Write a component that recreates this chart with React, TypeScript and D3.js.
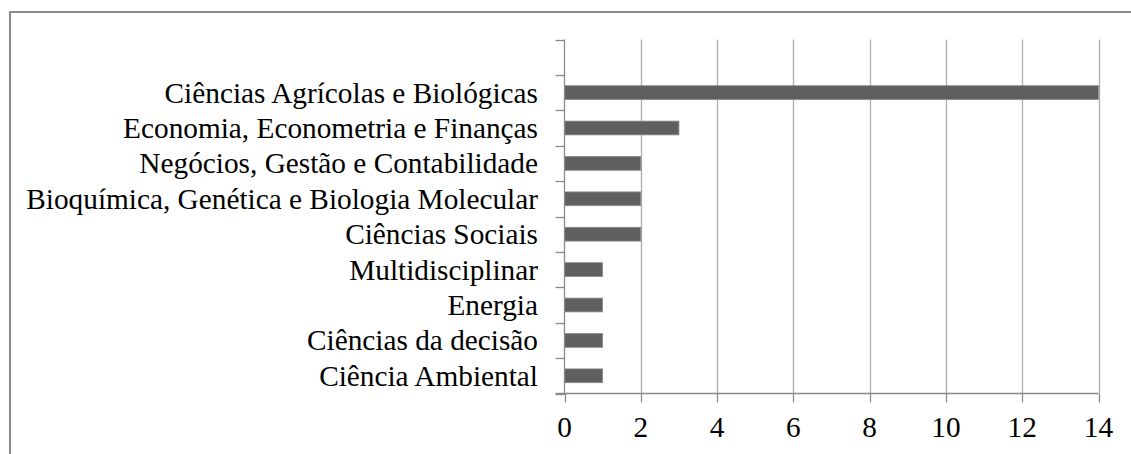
import React, { useEffect, useRef } from 'react';
import * as d3 from 'd3';

// categories top to bottom (first slot of the axis is left empty)
const categories = [
  'Ciências Agrícolas e Biológicas',
  'Economia, Econometria e Finanças',
  'Negócios, Gestão e Contabilidade',
  'Bioquímica, Genética e Biologia Molecular',
  'Ciências Sociais',
  'Multidisciplinar',
  'Energia',
  'Ciências da decisão',
  'Ciência Ambiental',
];
const counts = [14, 3, 2, 2, 2, 1, 1, 1, 1];
const xTicks = [0, 2, 4, 6, 8, 10, 12, 14];

const W = 1131;
const H = 454;
const FONT = 'Liberation Serif, Times New Roman, serif';

export default function App() {
  const ref = useRef<SVGSVGElement>(null);

  useEffect(() => {
    const svg = d3.select(ref.current);
    svg.selectAll('*').remove();

    const left = 564.5;
    const right = 1098.5;
    const top = 39.5;
    const bottom = 393.5;

    const x = d3.scaleLinear().domain([0, 14]).range([left, right]);
    const y = d3.scaleBand<string>()
      .domain(['', ...categories])
      .range([top, bottom])
      .padding(0);
    const bw = y.bandwidth();

    // outer frame (left + top only, the rest is cropped)
    svg.append('path')
      .attr('d', `M10,${H} V12 H${W}`)
      .attr('fill', 'none')
      .attr('stroke', '#8a8a8a')
      .attr('stroke-width', 2);

    // vertical gridlines
    svg.append('g')
      .selectAll('line')
      .data(xTicks.filter(d => d > 0))
      .enter().append('line')
      .attr('x1', d => Math.round(x(d)) + 0.5)
      .attr('x2', d => Math.round(x(d)) + 0.5)
      .attr('y1', top)
      .attr('y2', bottom)
      .attr('stroke', '#ababab')
      .attr('stroke-width', 1.3);

    // bars
    svg.append('g')
      .selectAll('rect')
      .data(categories)
      .enter().append('rect')
      .attr('x', left)
      .attr('y', d => (y(d) as number) + bw * 0.305)
      .attr('width', (d, i) => x(counts[i]) - left)
      .attr('height', bw * 0.39)
      .attr('fill', '#5f5f5f')
      .attr('stroke', '#8c8c8c')
      .attr('stroke-width', 0.8);

    // left axis line + ticks at band edges
    svg.append('line')
      .attr('x1', left).attr('x2', left)
      .attr('y1', top).attr('y2', bottom)
      .attr('stroke', '#8a8a8a').attr('stroke-width', 1.3);

    const edges = [...y.domain().map(d => y(d) as number), bottom];
    svg.append('g')
      .selectAll('line')
      .data(edges)
      .enter().append('line')
      .attr('x1', left - 9)
      .attr('x2', left)
      .attr('y1', d => Math.round(d) + 0.5)
      .attr('y2', d => Math.round(d) + 0.5)
      .attr('stroke', '#8a8a8a')
      .attr('stroke-width', 1.3);

    // bottom axis
    svg.append('line')
      .attr('x1', left - 9).attr('x2', right)
      .attr('y1', bottom).attr('y2', bottom)
      .attr('stroke', '#8a8a8a').attr('stroke-width', 1.3);

    svg.append('g')
      .selectAll('line')
      .data(xTicks)
      .enter().append('line')
      .attr('x1', d => Math.round(x(d)) + 0.5)
      .attr('x2', d => Math.round(x(d)) + 0.5)
      .attr('y1', bottom)
      .attr('y2', bottom + 9)
      .attr('stroke', '#8a8a8a')
      .attr('stroke-width', 1.3);

    svg.append('g')
      .selectAll('text')
      .data(xTicks)
      .enter().append('text')
      .attr('x', d => x(d))
      .attr('y', 437)
      .attr('text-anchor', 'middle')
      .attr('font-family', FONT)
      .attr('font-size', 29.3)
      .attr('fill', '#000')
      .text(d => d);

    // category labels
    svg.append('g')
      .selectAll('text')
      .data(categories)
      .enter().append('text')
      .attr('x', 538)
      .attr('y', d => (y(d) as number) + bw / 2 + 10)
      .attr('text-anchor', 'end')
      .attr('font-family', FONT)
      .attr('font-size', 29.3)
      .attr('fill', '#000')
      .text(d => d);
  }, []);

  return (
    <svg
      ref={ref}
      width={W}
      height={H}
      style={{ position: 'absolute', left: 0, top: 0, background: '#fff' }}
    />
  );
}
